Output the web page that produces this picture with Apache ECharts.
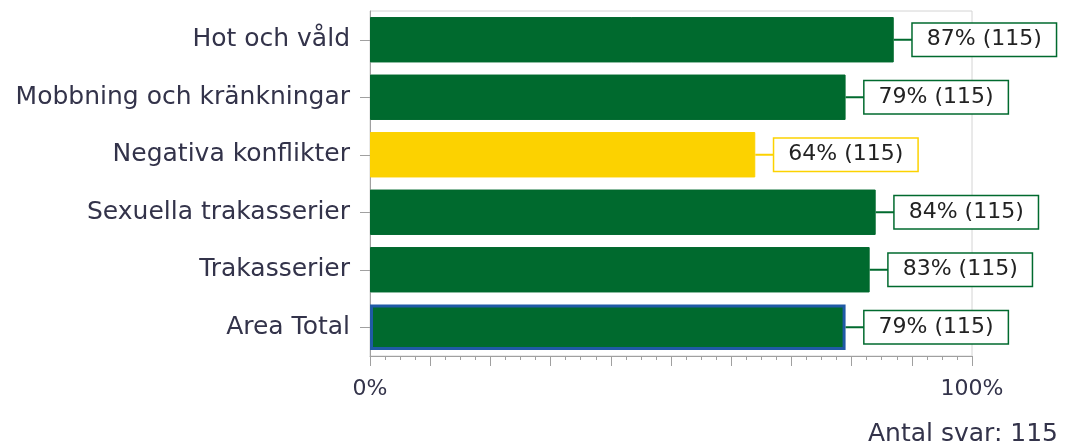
<!DOCTYPE html>
<html><head><meta charset="utf-8">
<script src="https://cdn.jsdelivr.net/npm/echarts@6/dist/echarts.min.js"></script>
<style>html,body{margin:0;padding:0;background:#fff}#c{width:1074px;height:446px}</style>
</head><body><div id="c"></div>
<script>
const categories = ['Hot och våld','Mobbning och kränkningar','Negativa konflikter','Sexuella trakasserier','Trakasserier','Area Total'];
const percentValues = [87, 79, 64, 84, 83, 79];
const answerCounts = [115, 115, 115, 115, 115, 115];
const totalAnswers = 115;
const axisTickLabels = ['0%', '100%'];

const GREEN = '#006a2e', YELLOW = '#fcd200', BLUE = '#1f5aa6';
const colorFor = v => v < 70 ? YELLOW : GREEN;
const FONT = 'DejaVu Sans';

const chart = echarts.init(document.getElementById('c'), null, {renderer: 'canvas'});
chart.setOption({
  animation: false,
  grid: {left: 370, right: 102, top: 11, bottom: 90, show: true, borderColor: '#d4d4d4', borderWidth: 1, backgroundColor: 'transparent'},
  xAxis: {
    type: 'value', min: 0, max: 100, interval: 10,
    axisLine: {show: true, lineStyle: {color: '#a0a0a0'}},
    axisTick: {show: true, length: 10, lineStyle: {color: '#a0a0a0'}},
    minorTick: {show: true, splitNumber: 4, length: 4, lineStyle: {color: '#a0a0a0'}},
    splitLine: {show: false},
    axisLabel: {
      margin: 22, fontFamily: FONT, fontSize: 22, color: '#33334a',
      formatter: v => v === 0 ? axisTickLabels[0] : (v === 100 ? axisTickLabels[1] : '')
    }
  },
  yAxis: {
    type: 'category', data: categories, inverse: true,
    axisLine: {show: true, lineStyle: {color: '#a0a0a0'}},
    axisTick: {show: true, alignWithLabel: true, length: 10, lineStyle: {color: '#a0a0a0'}},
    axisLabel: {margin: 20, fontFamily: FONT, fontSize: 25, color: '#33334a'}
  },
  series: [
    {
      type: 'bar', barCategoryGap: '21%',
      data: percentValues.map((v, i) => ({
        value: v,
        itemStyle: categories[i] === 'Area Total'
          ? {color: colorFor(v), borderColor: BLUE, borderWidth: 3}
          : {color: colorFor(v), borderColor: colorFor(v), borderWidth: 1}
      })),
      z: 2
    },
    {
      type: 'custom', z: 5,
      data: percentValues.map((v, i) => [v, i, answerCounts[i]]),
      renderItem: function (params, api) {
        const v = api.value(0), idx = api.value(1), n = api.value(2);
        const p = api.coord([v, idx]);
        const c = colorFor(v);
        const gap = 19;
        return {
          type: 'group',
          children: [
            {type: 'line', shape: {x1: p[0], y1: p[1], x2: p[0] + gap, y2: p[1]}, style: {stroke: c, lineWidth: 2}},
            {type: 'text', style: {
              text: v + '% (' + n + ')', x: p[0] + gap, y: p[1],
              align: 'left', verticalAlign: 'middle',
              font: '22px "' + FONT + '"', fill: '#222',
              backgroundColor: '#fff', borderColor: c, borderWidth: 1.5,
              padding: [5, 14, 5, 14]
            }}
          ]
        };
      }
    }
  ],
  graphic: [{
    type: 'text', right: 16, top: 422,
    style: {text: 'Antal svar: ' + totalAnswers, font: '25px "' + FONT + '"', fill: '#33334a'}
  }]
});
</script></body></html>
